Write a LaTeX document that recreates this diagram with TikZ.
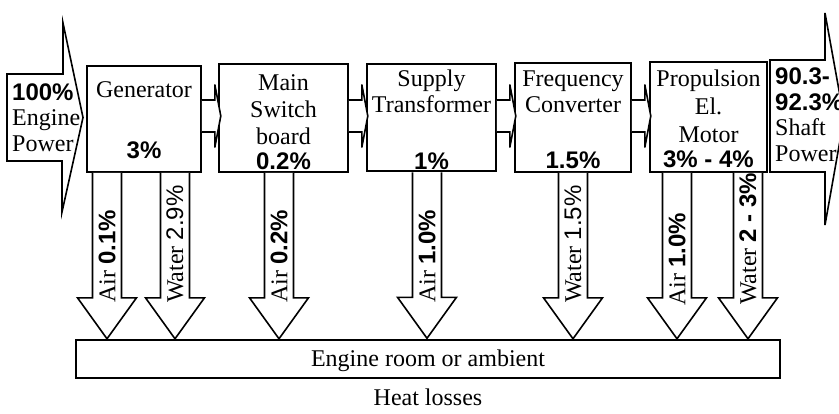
\documentclass[tikz,border=0pt]{standalone}
\usepackage{fontspec}
\setmainfont{Liberation Serif}
\setsansfont{Liberation Sans}
\usetikzlibrary{calc}
\newcommand{\pcnt}[1]{{\sffamily\bfseries #1}}

\begin{document}
\begin{tikzpicture}[
  x=1pt, y=-1pt,
  font=\fontsize{24}{27}\selectfont,
  box/.style={draw, line width=1.6pt, fill=white, inner sep=0pt},
  block/.style={draw, line width=1.6pt, fill=white, line join=miter},
  title/.style={anchor=base, align=center, inner sep=0pt},
  share/.style={anchor=base, inner sep=0pt},
  power/.style={anchor=base west, align=left, inner sep=0pt, font=\fontsize{24}{25.5}\selectfont},
  loss/.style={rotate=90, anchor=west, inner sep=0pt},
  heat/.pic={\draw[block] (-14.5,0) -- (-14.5,125) -- (-29.5,125) -- (0,166) -- (29.5,125) -- (14.5,125) -- (14.5,0);},
  link/.pic={\draw[block] (0,-16) -- (13,-16) -- (13,-31.5) -- (19,0) -- (13,31.5) -- (13,16) -- (0,16);}
]
\useasboundingbox (0,0) rectangle (839,413);
\clip (0,0) rectangle (839,413);

% power in and out
\draw[block] (7,74) -- (63,74) -- (63,23) -- (83,117.5) -- (62,212) -- (62,161) -- (7,161) -- cycle;
\draw[block] (770,60) -- (825,60) -- (825,13) -- (844,118) -- (825,225) -- (825,172) -- (770,172) -- cycle;
\node[power] (enginepower) at (12,151) {\pcnt{100\%}\\Engine\\Power};
\node[power] (shaftpower) at (775,161) {\pcnt{90.3-}\\\pcnt{92.3\%}\\Shaft\\Power};

% chain of units
\node[box, minimum width=114, minimum height=106] (gen) at (144,119) {};
\node[box, minimum width=129, minimum height=108] (switchboard) at (283.5,118) {};
\node[box, minimum width=129, minimum height=107] (transformer) at (431.5,117.5) {};
\node[box, minimum width=116, minimum height=109] (converter) at (573,117.5) {};
\node[box, minimum width=117, minimum height=110] (motor) at (708.5,117) {};

% base anchor sits on the last line
\node[title] (gentitle) at ($(gen.north)+(0,32)$) {Generator};
\node[title] (switchtitle) at ($(switchboard.north)+(0,81)$) {Main\\Switch\\board};
\node[title, font=\fontsize{24}{25.5}\selectfont] (trafotitle) at ($(transformer.north)+(0,49)$) {Supply\\Transformer};
\node[title, font=\fontsize{24}{26}\selectfont] (convtitle) at ($(converter.north)+(0,50)$) {Frequency\\Converter};
\node[title, font=\fontsize{24}{28}\selectfont] (motortitle) at ($(motor.north)+(0,81)$) {Propulsion\\El.\\Motor};

\node[share] (genshare) at ($(gen.south)+(0,-14)$) {\pcnt{3\%}};
\node[share] (switchshare) at ($(switchboard.south)+(0,-3)$) {\pcnt{0.2\%}};
\node[share] (trafoshare) at ($(transformer.south)+(0,-2.5)$) {\pcnt{1\%}};
\node[share] (convshare) at ($(converter.south)+(0,-4)$) {\pcnt{1.5\%}};
\node[share] (motorshare) at ($(motor.south)+(0,-5)$) {\pcnt{3\% - 4\%}};

\pic at (gen.east |- 0,116) {link};
\pic at (switchboard.east |- 0,116) {link};
\pic at (transformer.east |- 0,116) {link};
\pic at (converter.east |- 0,116) {link};

% heat losses
\node[box, minimum width=704, minimum height=38] (room) at (428,359) {};
\node[share] (roomtext) at ($(room.center)+(0,7)$) {Engine room or ambient};
\node[share] (heatlosses) at ($(room.south)+(0,27)$) {Heat losses};

\pic at ($(gen.south)+(-37,0)$) {heat};
\pic at ($(gen.south)+(31,0)$) {heat};
\pic at ($(switchboard.south)+(-4.5,0)$) {heat};
\pic at ($(transformer.south)+(-4.5,0.5)$) {heat};
\pic at ($(converter.south)+(0,0)$) {heat};
\pic at ($(motor.south)+(-31.5,0)$) {heat};
\pic at ($(motor.south)+(39.5,0)$) {heat};

\node[loss] (genair) at (107,303) {Air \pcnt{0.1\%}};
\node[loss] (genwater) at (175,303) {Water {\sffamily 2.9\%}};
\node[loss] (switchair) at (279,303) {Air \pcnt{0.2\%}};
\node[loss] (trafoair) at (427,303) {Air \pcnt{1.0\%}};
\node[loss] (convwater) at (573,303) {Water {\sffamily 1.5\%}};
\node[loss] (motorair) at (677,306) {Air \pcnt{1.0\%}};
\node[loss] (motorwater) at (748,305) {Water \pcnt{2 - 3\%}};
\end{tikzpicture}
\end{document}
